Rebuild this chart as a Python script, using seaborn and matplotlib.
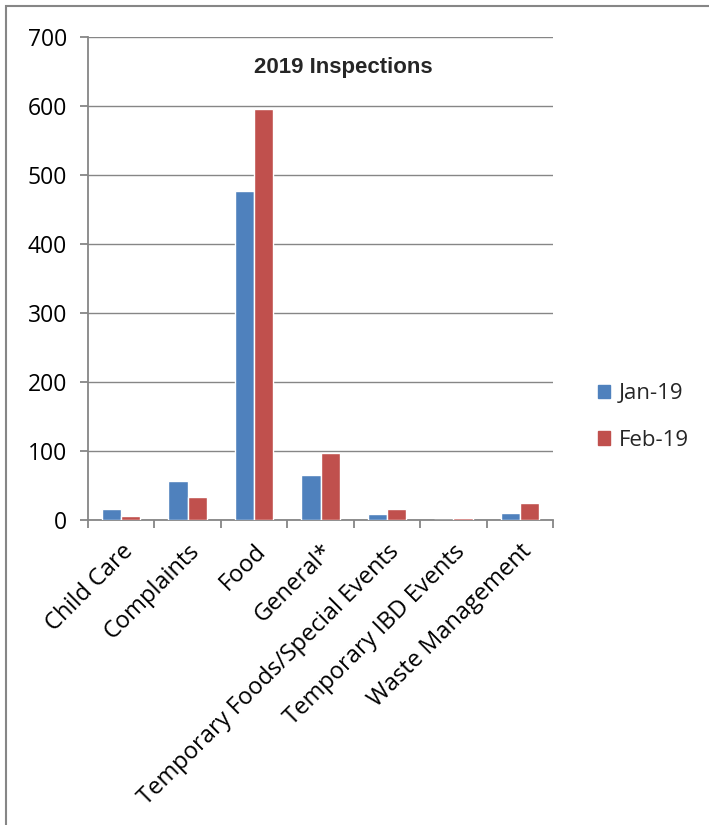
import matplotlib
matplotlib.use("Agg")
import matplotlib.pyplot as plt
import seaborn as sns
import pandas as pd
from matplotlib.patches import Rectangle

categories = ["Child Care", "Complaints", "Food", "General*",
              "Temporary Foods/Special Events", "Temporary IBD Events",
              "Waste Management"]
jan19 = [16, 57, 477, 65, 9, 0, 10]
feb19 = [6, 34, 596, 97, 16, 3, 25]
series = ["Jan-19", "Feb-19"]
yticks = [0, 100, 200, 300, 400, 500, 600, 700]

df = pd.DataFrame({
    "cat": categories * 2,
    "val": jan19 + feb19,
    "series": [series[0]] * len(categories) + [series[1]] * len(categories),
})

sns.set_style("white")
plt.rcParams['font.family'] = ['Open Sans', 'DejaVu Sans']

W, H = 709, 825
fig = plt.figure(figsize=(W / 100, H / 100), dpi=100)
ax = fig.add_axes([88 / W, 1 - 520 / H, (553 - 88) / W, (520 - 37) / H])

palette = {"Jan-19": "#4F81BD", "Feb-19": "#C0504D"}
sns.barplot(data=df, x="cat", y="val", hue="series", palette=palette,
            width=0.58, ax=ax, saturation=1, legend=False, zorder=3)

ax.set_ylim(0, 700)
ax.set_xlim(-0.5, len(categories) - 0.5)
ax.set_yticks(yticks)
ax.yaxis.grid(True, color="#868686", linewidth=1.0, zorder=0)
ax.set_axisbelow(True)
for s in ["top", "right"]:
    ax.spines[s].set_visible(False)
for s in ["left", "bottom"]:
    ax.spines[s].set_color("#868686")
    ax.spines[s].set_linewidth(1.3)
ax.set_xlabel("")
ax.set_ylabel("")

ax.tick_params(axis="y", which="both", length=6, width=1.3, color="#868686",
               labelsize=16.5, pad=9, left=True, labelcolor="black")
ax.set_xticks([i - 0.5 for i in range(len(categories) + 1)], minor=False)
ax.set_xticklabels([""] * (len(categories) + 1))
ax.tick_params(axis="x", which="major", length=6, width=1.3, color="#868686",
               bottom=True, direction="out")
ax.set_xticks(range(len(categories)), minor=True)
ax.set_xticklabels(categories, minor=True, rotation=45, ha="right",
                   rotation_mode="anchor", fontsize=17)
ax.tick_params(axis="x", which="minor", length=0, pad=14, labelcolor="black")

fig.text(343 / W, 1 - 68 / H, "2019 Inspections", ha="center", va="center",
         fontsize=16, fontweight="bold", family=["Liberation Sans", "DejaVu Sans"])

handles = [Rectangle((0, 0), 1, 1, color=palette[s]) for s in series]
fig.legend(handles, series, loc="center left",
           bbox_to_anchor=(578 / W, 1 - 417 / H), frameon=False,
           fontsize=16, handlelength=0.55, handleheight=0.55,
           labelspacing=1.15, handletextpad=0.4)

fig.add_artist(Rectangle((6 / W, -0.1), 1.2, 1 - 6 / H + 0.1,
                         transform=fig.transFigure, fill=False,
                         edgecolor="#868686", linewidth=1.5))

fig.savefig("out.png", dpi=100, facecolor="white")
